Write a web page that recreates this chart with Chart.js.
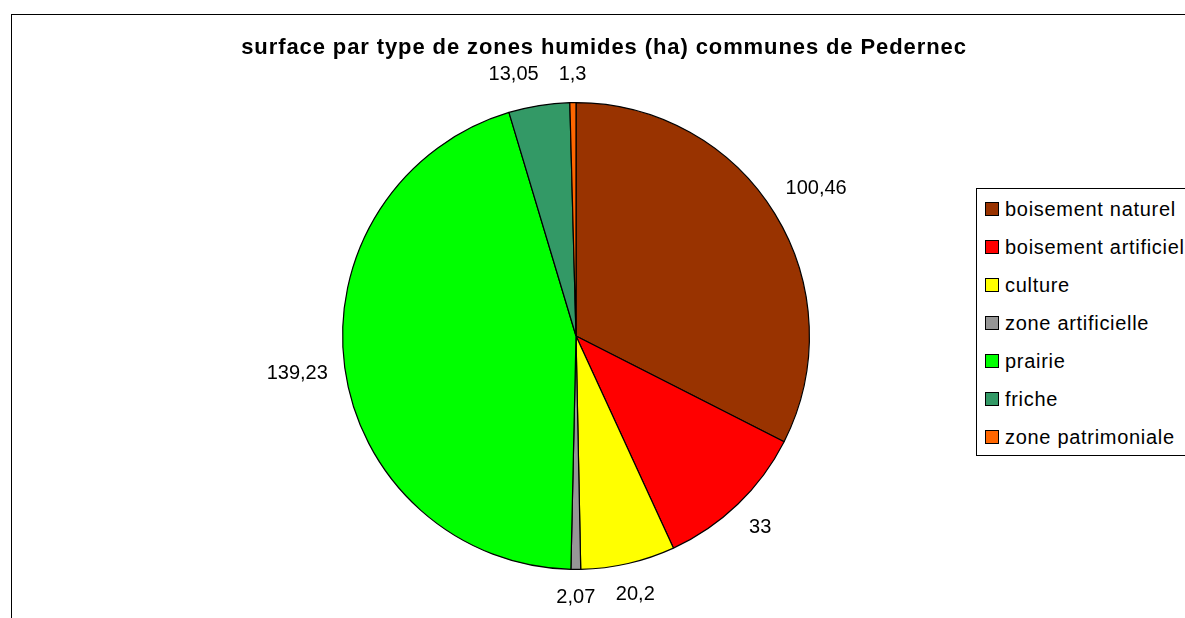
<!DOCTYPE html>
<html>
<head>
<meta charset="utf-8">
<script src="https://cdn.jsdelivr.net/npm/chart.js@4.4.0/dist/chart.umd.min.js"></script>
<style>
  html, body { margin: 0; padding: 0; background: #fff; overflow: hidden; }
  #wrap { position: relative; width: 1185px; height: 618px; overflow: hidden; }
  #frame { position: absolute; left: 11px; top: 14px; width: 1190px; height: 620px; border: 1px solid #000; box-sizing: border-box; }
  #legend { position: absolute; left: 976px; top: 188px; width: 260px; height: 268px; border: 1px solid #000; box-sizing: border-box; background: #fff;
            font-family: "Liberation Sans", Arial, sans-serif; font-size: 20px; letter-spacing: 0.7px; color: #000; }
  .item { position: absolute; left: 8px; height: 24px; line-height: 24px; white-space: nowrap; }
  .sw { display: inline-block; width: 12px; height: 12px; border: 1.5px solid #000; vertical-align: middle; margin-right: 6px; position: relative; top: -2px; }
  canvas { position: absolute; left: 0; top: 0; }
</style>
</head>
<body>
<div id="wrap">
  <div id="frame"></div>
  <canvas id="chart" width="1185" height="618"></canvas>
  <div id="legend"></div>
</div>
<script>
// données
const titre = 'surface par type de zones humides (ha) communes de Pedernec';
const categories = ['boisement naturel', 'boisement artificiel', 'culture', 'zone artificielle', 'prairie', 'friche', 'zone patrimoniale'];
const surfaces = [100.46, 33, 20.2, 2.07, 139.23, 13.05, 1.3];
const couleurs = ['#993300', '#FF0000', '#FFFF00', '#969696', '#00FF00', '#339966', '#FF6600'];

const FONT = '"Liberation Sans", Arial, sans-serif';

// format décimal français (virgule)
function formatValeur(v) {
    return String(v).replace('.', ',');
}

// étiquettes de valeurs à l'extérieur des secteurs
const etiquettesPlugin = {
    id: 'etiquettes',
    afterDatasetsDraw(chart) {
        const ctx = chart.ctx;
        const meta = chart.getDatasetMeta(0);
        ctx.save();
        ctx.font = '20px ' + FONT;
        ctx.fillStyle = '#000';
        ctx.textAlign = 'center';
        ctx.textBaseline = 'middle';

        const boites = meta.data.map((arc, i) => {
            const p = arc.getProps(['x', 'y', 'startAngle', 'endAngle', 'outerRadius'], true);
            const mid = (p.startAngle + p.endAngle) / 2;
            const txt = formatValeur(chart.data.datasets[0].data[i]);
            const hw = ctx.measureText(txt).width / 2;
            const c = Math.cos(mid), s = Math.sin(mid);
            const r = p.outerRadius + 16 + hw * Math.abs(c) + 12 * Math.abs(s);
            return { txt, hw, x: p.x + r * c, y: p.y + r * s };
        });

        // évite les chevauchements : l'étiquette précédente s'écarte, la suivante reste
        for (let i = 0; i < boites.length; i++) {
            for (let j = i + 1; j < boites.length; j++) {
                const a = boites[i], b = boites[j];
                const recouvreY = Math.abs(a.y - b.y) < 20;
                const ecart = (a.hw + b.hw) - Math.abs(a.x - b.x);
                if (recouvreY && ecart > 0) {
                    const dir = (a.x < b.x) ? -1 : 1;
                    a.x += dir * (ecart + 20);
                }
            }
        }
        boites.forEach(b => ctx.fillText(b.txt, b.x, b.y));
        ctx.restore();
    }
};

// titre centré sur toute la largeur
const titrePlugin = {
    id: 'titre',
    afterDraw(chart) {
        const ctx = chart.ctx;
        ctx.save();
        ctx.font = 'bold 22px ' + FONT;
        ctx.letterSpacing = '0.9px';
        ctx.fillStyle = '#000';
        ctx.textAlign = 'center';
        ctx.textBaseline = 'middle';
        ctx.fillText(titre, 604, 48);
        ctx.restore();
    }
};

new Chart(document.getElementById('chart'), {
    type: 'pie',
    data: {
        labels: categories,
        datasets: [{
            data: surfaces,
            backgroundColor: couleurs,
            borderColor: '#000',
            borderWidth: 1.2
        }]
    },
    options: {
        responsive: false,
        animation: false,
        events: [],
        layout: { padding: { left: 342, right: 375, top: 102, bottom: 48 } },
        plugins: {
            legend: { display: false },
            title: { display: false },
            tooltip: { enabled: false }
        }
    },
    plugins: [etiquettesPlugin, titrePlugin]
});

// légende HTML
const legende = document.getElementById('legend');
categories.forEach((nom, i) => {
    const div = document.createElement('div');
    div.className = 'item';
    div.style.top = (8 + i * 38) + 'px';
    div.innerHTML = '<span class="sw" style="background:' + couleurs[i] + '"></span>' + nom;
    legende.appendChild(div);
});
</script>
</body>
</html>
